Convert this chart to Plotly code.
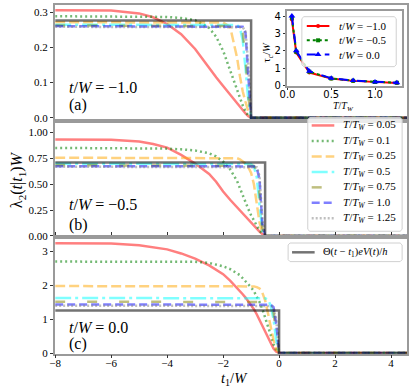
import plotly.graph_objects as go

# figure size in px
W_PX, H_PX = 409, 392

# shared t1/W grid for all curves
T1 = [-8, -6, -5, -4.5, -4, -3.5, -3, -2.5, -2.25, -2, -1.75, -1.5, -1.4, -1.3, -1.2,
      -1.1, -1.0, -0.9, -0.8, -0.7, -0.6, -0.5, -0.4, -0.3, -0.2, -0.1, 0, 4.57]

T_LABELS = ['0.05', '0.1', '0.25', '0.5', '0.75', '1.0', '1.25']

# panel (a)  t/W = -1.0
A_005 = [0.305, 0.304, 0.296, 0.285, 0.266, 0.237, 0.195, 0.140, 0.115, 0.090, 0.065, 0.040, 0.030, 0.021,
         0.012, 0.004, 0, 0, 0, 0, 0, 0, 0, 0, 0, 0, 0, 0]
A_01 = [0.288, 0.288, 0.288, 0.287, 0.286, 0.283, 0.277, 0.255, 0.230, 0.190, 0.135, 0.075, 0.055, 0.035,
        0.018, 0.005, 0, 0, 0, 0, 0, 0, 0, 0, 0, 0, 0, 0]
A_025 = [0.271, 0.271, 0.271, 0.271, 0.271, 0.271, 0.271, 0.271, 0.271, 0.270, 0.258, 0.170, 0.118, 0.075,
         0.045, 0.018, 0, 0, 0, 0, 0, 0, 0, 0, 0, 0, 0, 0]
A_05 = [0.264, 0.264, 0.264, 0.264, 0.264, 0.264, 0.264, 0.264, 0.264, 0.264, 0.264, 0.263, 0.255, 0.220,
        0.140, 0.050, 0, 0, 0, 0, 0, 0, 0, 0, 0, 0, 0, 0]
A_075 = [0.262, 0.262, 0.262, 0.262, 0.262, 0.262, 0.262, 0.262, 0.262, 0.262, 0.262, 0.262, 0.260, 0.240,
         0.170, 0.060, 0, 0, 0, 0, 0, 0, 0, 0, 0, 0, 0, 0]
A_10 = [0.260, 0.260, 0.260, 0.260, 0.260, 0.260, 0.260, 0.260, 0.260, 0.260, 0.260, 0.260, 0.260, 0.258,
        0.240, 0.130, 0, 0, 0, 0, 0, 0, 0, 0, 0, 0, 0, 0]
A_125 = [0.258, 0.258, 0.258, 0.258, 0.258, 0.258, 0.258, 0.258, 0.258, 0.258, 0.258, 0.258, 0.258, 0.257,
         0.245, 0.150, 0, 0, 0, 0, 0, 0, 0, 0, 0, 0, 0, 0]

# panel (b)  t/W = -0.5
B_005 = [0.934, 0.930, 0.915, 0.890, 0.855, 0.785, 0.700, 0.600, 0.525, 0.430, 0.350, 0.275, 0.245, 0.213,
         0.183, 0.153, 0.124, 0.095, 0.068, 0.042, 0.018, 0, 0, 0, 0, 0, 0, 0]
B_01 = [0.852, 0.852, 0.851, 0.849, 0.845, 0.838, 0.827, 0.800, 0.770, 0.720, 0.645, 0.530, 0.460, 0.390,
        0.320, 0.260, 0.200, 0.145, 0.095, 0.050, 0.020, 0, 0, 0, 0, 0, 0, 0]
B_025 = [0.757, 0.757, 0.757, 0.757, 0.757, 0.757, 0.757, 0.757, 0.757, 0.757, 0.757, 0.752, 0.742, 0.725,
         0.700, 0.665, 0.610, 0.500, 0.310, 0.130, 0.030, 0, 0, 0, 0, 0, 0, 0]
B_05 = [0.700, 0.700, 0.700, 0.700, 0.700, 0.700, 0.700, 0.700, 0.700, 0.700, 0.700, 0.700, 0.700, 0.700,
        0.700, 0.700, 0.695, 0.670, 0.570, 0.300, 0.050, 0, 0, 0, 0, 0, 0, 0]
B_075 = [0.685, 0.685, 0.685, 0.685, 0.685, 0.685, 0.685, 0.685, 0.685, 0.685, 0.685, 0.685, 0.685, 0.685,
         0.685, 0.685, 0.685, 0.678, 0.630, 0.400, 0.080, 0, 0, 0, 0, 0, 0, 0]
B_10 = [0.675, 0.675, 0.675, 0.675, 0.675, 0.675, 0.675, 0.675, 0.675, 0.675, 0.675, 0.675, 0.675, 0.675,
        0.675, 0.675, 0.675, 0.673, 0.660, 0.550, 0.120, 0, 0, 0, 0, 0, 0, 0]
B_125 = [0.670, 0.670, 0.670, 0.670, 0.670, 0.670, 0.670, 0.670, 0.670, 0.670, 0.670, 0.670, 0.670, 0.670,
         0.670, 0.670, 0.670, 0.670, 0.665, 0.580, 0.150, 0, 0, 0, 0, 0, 0, 0]

# panel (c)  t/W = 0.0
C_005 = [3.23, 3.22, 3.17, 3.12, 3.05, 2.93, 2.78, 2.58, 2.46, 2.32, 2.13, 1.92, 1.83, 1.73, 1.63, 1.52,
         1.41, 1.29, 1.14, 0.97, 0.80, 0.63, 0.45, 0.27, 0.13, 0.04, 0, 0]
C_01 = [2.69, 2.69, 2.69, 2.69, 2.69, 2.688, 2.685, 2.65, 2.60, 2.55, 2.47, 2.35, 2.29, 2.20, 2.12, 2.03,
        1.93, 1.82, 1.68, 1.50, 1.30, 1.06, 0.80, 0.53, 0.26, 0.08, 0, 0]
C_025 = [1.97, 1.97, 1.97, 1.97, 1.97, 1.97, 1.97, 1.97, 1.97, 1.97, 1.97, 1.97, 1.97, 1.97, 1.97, 1.97,
         1.97, 1.96, 1.94, 1.90, 1.78, 1.55, 1.18, 0.75, 0.38, 0.10, 0, 0]
C_05 = [1.62, 1.62, 1.62, 1.62, 1.62, 1.62, 1.62, 1.62, 1.62, 1.62, 1.62, 1.62, 1.62, 1.62, 1.62, 1.62,
        1.62, 1.62, 1.62, 1.62, 1.62, 1.61, 1.57, 1.40, 1.00, 0.35, 0, 0]
C_075 = [1.51, 1.51, 1.51, 1.51, 1.51, 1.51, 1.51, 1.51, 1.51, 1.51, 1.51, 1.51, 1.51, 1.51, 1.51, 1.51,
         1.51, 1.51, 1.51, 1.51, 1.51, 1.51, 1.50, 1.45, 1.20, 0.55, 0, 0]
C_10 = [1.43, 1.43, 1.43, 1.43, 1.43, 1.43, 1.43, 1.43, 1.43, 1.43, 1.43, 1.43, 1.43, 1.43, 1.43, 1.43,
        1.43, 1.43, 1.43, 1.43, 1.43, 1.43, 1.43, 1.42, 1.35, 0.85, 0, 0]
C_125 = [1.39, 1.39, 1.39, 1.39, 1.39, 1.39, 1.39, 1.39, 1.39, 1.39, 1.39, 1.39, 1.39, 1.39, 1.39, 1.39,
         1.39, 1.39, 1.39, 1.39, 1.39, 1.39, 1.39, 1.385, 1.35, 0.95, 0, 0]

PANEL_CURVES = [
    [A_005, A_01, A_025, A_05, A_075, A_10, A_125],
    [B_005, B_01, B_025, B_05, B_075, B_10, B_125],
    [C_005, C_01, C_025, C_05, C_075, C_10, C_125],
]
PANEL_T = [-1.0, -0.5, 0.0]          # t/W of each panel (step position)
STEP_H = [0.276, 0.71, 1.25]         # Theta(t-t1) eV(t)/h
PANEL_TEXT = ['\u22121.0', '\u22120.5', '0.0']
PANEL_TAG = ['(a)', '(b)', '(c)']

# inset: tau_c/W vs T/T_W
T_VALUES = [0.05, 0.1, 0.25, 0.5, 0.75, 1.0, 1.25]
TAU_M10 = [3.80, 1.90, 0.75, 0.40, 0.27, 0.20, 0.15]
TAU_M05 = [3.90, 1.95, 0.80, 0.41, 0.28, 0.20, 0.16]
TAU_00 = [4.00, 2.00, 0.82, 0.42, 0.29, 0.21, 0.16]
INSET_LABELS = ['\u22121.0', '\u22120.5', '0.0']

X_MIN, X_MAX = -8.0, 4.57

SERIF = 'Liberation Serif'
SANS = 'DejaVu Sans'
SPINE = '#9a9a9a'

# colour, dash pattern for each T/T_W
STYLES = [
    ('rgba(255,0,0,0.5)', 'solid'),
    ('rgba(0,128,0,0.55)', '2px,3px'),
    ('rgba(255,165,0,0.5)', '10px,4px'),
    ('rgba(0,255,255,0.5)', '16px,4px,3px,4px'),
    ('rgba(128,128,0,0.5)', '10px,22px'),
    ('rgba(0,0,255,0.5)', '8px,4px'),
    ('rgba(128,128,128,0.5)', '2px,2px'),
]
STEP_COLOR = 'rgba(0,0,0,0.55)'

fig = go.Figure()
yaxes = ['y', 'y2', 'y3']

for p in range(3):
    for curve, (col, dash) in zip(PANEL_CURVES[p], STYLES):
        fig.add_trace(go.Scatter(x=T1, y=curve, mode='lines', xaxis='x', yaxis=yaxes[p],
                                 line=dict(color=col, width=2.5, dash=dash), showlegend=False))
    t, h = PANEL_T[p], STEP_H[p]
    fig.add_trace(go.Scatter(x=[X_MIN, t, t, X_MAX], y=[h, h, 0, 0], mode='lines', xaxis='x',
                             yaxis=yaxes[p], line=dict(color=STEP_COLOR, width=2.5), showlegend=False))

# inset
inset = [(TAU_M10, 'red', 'solid', 'circle', 4),
         (TAU_M05, 'green', 'dot', 'square', 4),
         (TAU_00, 'blue', 'dash', 'triangle-up', 6)]
for vals, col, dash, sym, ms in inset:
    fig.add_trace(go.Scatter(x=T_VALUES, y=vals, mode='lines+markers', xaxis='x2', yaxis='y4',
                             line=dict(color=col, width=2, dash=dash),
                             marker=dict(symbol=sym, size=ms, color=col), showlegend=False))


# ---- hand-made legends on a pixel overlay axis (x3 / y5) ----
def legend_box(x0, y0, x1, y1):
    r = 2
    xs = [x0 + r, x1 - r, x1, x1, x1 - r, x0 + r, x0, x0, x0 + r]
    ys = [y0, y0, y0 + r, y1 - r, y1, y1, y1 - r, y0 + r, y0]
    fig.add_trace(go.Scatter(x=xs, y=ys, mode='lines', fill='toself', xaxis='x3', yaxis='y5',
                             fillcolor='rgba(255,255,255,0.8)', line=dict(color='#d0d0d0', width=1),
                             showlegend=False, hoverinfo='skip'))


def swatch(x0, x1, y, col, dash, width=2.5, sym=None, ms=0):
    fig.add_trace(go.Scatter(x=[x0, x1], y=[y, y], mode='lines', xaxis='x3', yaxis='y5',
                             line=dict(color=col, width=width, dash=dash), showlegend=False,
                             hoverinfo='skip'))
    if sym:
        fig.add_trace(go.Scatter(x=[(x0 + x1) / 2], y=[y], mode='markers', xaxis='x3', yaxis='y5',
                                 marker=dict(symbol=sym, size=ms, color=col), showlegend=False,
                                 hoverinfo='skip'))


annotations = []


def label(x, y, text, size, font=SERIF, xanchor='left', angle=0):
    annotations.append(dict(x=x, y=y, xref='x3', yref='y5', text=text, showarrow=False,
                            xanchor=xanchor, yanchor='middle', textangle=angle,
                            font=dict(family=font, size=size, color='black')))


# T/T_W legend (panel b)
legend_box(306, 117, 402, 233)
for i, ((col, dash), lab) in enumerate(zip(STYLES, T_LABELS)):
    yy = 125 + i * 15.8
    swatch(310, 333, yy, col, dash)
    label(340, yy, f'<i>T</i>/<i>T</i><sub><i>W</i></sub> = {lab}', 11)

# step legend (panel c)
legend_box(286, 245, 402, 264)
swatch(290, 313, 254.5, STEP_COLOR, 'solid')
label(319, 254.5, '\u0398(<i>t</i> \u2212 <i>t</i><sub>1</sub>)<i>eV</i>(<i>t</i>)/<i>h</i>', 10.5)

# inset legend
legend_box(300, 14, 396, 65)
for i, (vals, col, dash, sym, ms) in enumerate(inset):
    yy = 23.5 + i * 14.6
    swatch(305, 328, yy, col, dash, width=2, sym=sym, ms=ms)
    label(336, yy, f'<i>t</i>/<i>W</i> = {INSET_LABELS[i]}', 11)

# panel texts
panel_y = [(86, 104), (206, 227), (331, 348)]
for p in range(3):
    label(61, panel_y[p][0], f'<i>t</i>/<i>W</i> = {PANEL_TEXT[p]}', 16)
    label(61, panel_y[p][1], PANEL_TAG[p], 16)

# axis titles
label(11, 180, '\u03bb<sub>2</sub>(<i>t</i>|<i>t</i><sub>1</sub>)<i>W</i>', 16, xanchor='center', angle=-90)
label(231, 384, '<i>t</i><sub>1</sub>/<i>W</i>', 14.5, xanchor='center')
label(266, 50, '\u03c4<sub><i>c</i></sub>/<i>W</i>', 10.5, xanchor='center', angle=-90)
label(342, 106, '<i>T</i>/<i>T</i><sub><i>W</i></sub>', 10, xanchor='center')

axis_common = dict(showline=True, linecolor=SPINE, linewidth=1.5, ticks='outside',
                   tickwidth=1, tickcolor='#333333', showgrid=False, zeroline=False)
tick_serif = dict(family=SERIF, size=11, color='black')
tick_sans = dict(family=SANS, size=10, color='black')

fig.update_layout(
    width=W_PX, height=H_PX, autosize=False,
    margin=dict(l=0, r=0, t=0, b=0),
    paper_bgcolor='white', plot_bgcolor='rgba(0,0,0,0)',
    showlegend=False,
    xaxis=dict(domain=[49 / W_PX, 407 / W_PX], anchor='y3', range=[X_MIN, X_MAX], mirror='all',
               tickvals=[-8, -6, -4, -2, 0, 2, 4], ticklen=3, ticklabelstandoff=-5,
               ticktext=['\u22128', '\u22126', '\u22124', '\u22122', '0', '2', '4'],
               tickfont=tick_serif, **axis_common),
    yaxis=dict(domain=[1 - 120 / H_PX, 1 - 2 / H_PX], anchor='x', range=[-0.008, 0.32], mirror=True,
               tickvals=[0, 0.1, 0.2, 0.3], ticktext=['0.0', '0.1', '0.2', '0.3'], ticklen=3.5,
               tickfont=tick_serif, **axis_common),
    yaxis2=dict(domain=[1 - 239 / H_PX, 1 - 120 / H_PX], anchor='x', range=[-0.012, 1.117], mirror=True,
                tickvals=[0, 0.25, 0.5, 0.75, 1.0], ticktext=['0.00', '0.25', '0.50', '0.75', '1.00'],
                ticklen=3.5, tickfont=tick_serif, **axis_common),
    yaxis3=dict(domain=[1 - 358 / H_PX, 1 - 239 / H_PX], anchor='x', range=[-0.02, 3.41], mirror=True,
                tickvals=[0, 1, 2, 3], ticklen=3.5, tickfont=tick_serif, **axis_common),
    xaxis2=dict(domain=[284.5 / W_PX, 402 / W_PX], anchor='y4', range=[-0.01, 1.31], mirror=True,
                tickvals=[0, 0.5, 1.0], ticktext=['0.0', '0.5', '1.0'], ticklen=2,
                ticklabelstandoff=-4, tickfont=tick_sans, **axis_common),
    yaxis4=dict(domain=[1 - 85 / H_PX, 1 - 8 / H_PX], anchor='x2', range=[-0.04, 4.3], mirror=True,
                tickvals=[0, 1, 2, 3, 4], ticklen=2, tickfont=tick_sans, **axis_common),
    xaxis3=dict(domain=[0, 1], range=[0, W_PX], visible=False, anchor='y5', fixedrange=True),
    yaxis5=dict(domain=[0, 1], range=[H_PX, 0], visible=False, anchor='x3', fixedrange=True),
    annotations=annotations,
)

# drop the default page margin so the figure sits at the window origin
fig.write_html('out.html', config={'displayModeBar': False},
               post_script="document.body.style.margin='0px';")
